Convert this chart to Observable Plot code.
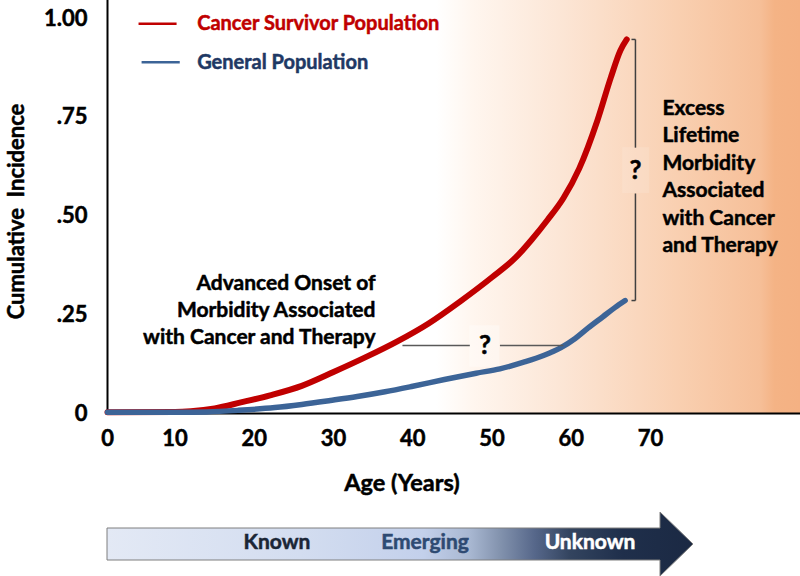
<!DOCTYPE html>
<html>
<head>
<meta charset="utf-8">
<script src="https://cdn.jsdelivr.net/npm/d3@7"></script>
<script src="https://cdn.jsdelivr.net/npm/@observablehq/plot@0.6"></script>
<style>
  html, body { margin: 0; padding: 0; background: #fff; }
  body { width: 800px; height: 576px; overflow: hidden; font-family: Lato, "Open Sans", sans-serif; }
  #chart svg, #arrow svg { display: block; }
  #chart svg [aria-label*="axis"] text { stroke: #000; stroke-width: 0.5px; }
</style>
</head>
<body>
<div id="chart"></div>
<div id="arrow"></div>
<script>
// ---- data ----
const survivorAge = [0, 10, 12, 15, 18.3, 22, 26, 30, 34, 38, 42, 46, 50, 53, 55, 57, 59, 61, 63.3, 65, 66.2, 67];
const survivorIncidence = [0.003, 0.004, 0.006, 0.013, 0.028, 0.046, 0.07, 0.105, 0.142, 0.182, 0.228, 0.284, 0.345, 0.395, 0.44, 0.49, 0.545, 0.62, 0.742, 0.851, 0.919, 0.947];
const generalAge = [0, 10, 14, 18, 22.6, 26, 29.6, 33, 36.5, 40, 44, 48, 51, 54, 56.5, 58.7, 60.5, 62.1, 64, 65.5, 66.8];
const generalIncidence = [0.003, 0.003, 0.004, 0.008, 0.015, 0.023, 0.033, 0.043, 0.055, 0.069, 0.086, 0.102, 0.113, 0.13, 0.147, 0.167, 0.19, 0.216, 0.245, 0.268, 0.286];
const seriesNames = ["Cancer Survivor Population", "General Population"];
const seriesColors = ["#c00000", "#3c6497"];
const legendTextColors = ["#c00000", "#1f3864"];
const xTicks = [0, 10, 20, 30, 40, 50, 60, 70];
const yTicks = [0, 0.25, 0.5, 0.75, 1];
const yTickLabels = ["0", ".25", ".50", ".75", "1.00"];
const xLabel = "Age (Years)";
const yLabel = "Cumulative  Incidence";
const onsetText = "Advanced Onset of\nMorbidity Associated\nwith Cancer and Therapy";
const excessText = "Excess\nLifetime\nMorbidity\nAssociated\nwith Cancer\nand Therapy";
const stageLabels = ["Known", "Emerging", "Unknown"];

// ---- layout ----
const W = 800, H = 500, mL = 107, mB = 87;
// the reference's age axis is drawn unevenly: 0→10 is narrower than the later decades
const xDomain = [0, 10, 70, 88.9];
const xRange = [mL, 174.5, 650, W];
const yMax = 1.0456;
const shadeStart = 43;
const font = "Lato, 'Open Sans', sans-serif";
const bold = 0.5; // extra stroke to mimic heavier weight

const survivor = survivorAge.map((a, i) => ({age: a, v: survivorIncidence[i]}));
const general = generalAge.map((a, i) => ({age: a, v: generalIncidence[i]}));
const series = [survivor, general];

// annotation geometry (data units)
const gapY = 0.172, gapFrom = 38.7, gapTo = 59.0, gapMid = 49.1, gapHalf = 1.9;
const brX = 68.1, brTop = survivorIncidence[survivorIncidence.length - 1], brBot = generalIncidence[generalIncidence.length - 1];
const brMid = 0.615, brHalf = 0.058;

const legendItems = seriesNames.map((n, i) => ({name: n, y: 0.987 - i * 0.098, x1: 4.6 + i * 0.45, x2: 10.2 + i * 0.4, color: seriesColors[i], text: legendTextColors[i]}));

const chart = Plot.plot({
  width: W, height: H,
  marginLeft: mL, marginRight: 0, marginTop: 0, marginBottom: mB,
  x: {type: "linear", domain: xDomain, range: xRange, ticks: xTicks, tickSize: 0, tickPadding: 17, label: null},
  y: {domain: [0, yMax], ticks: yTicks, tickSize: 0, tickPadding: 20, label: null,
      tickFormat: d => yTickLabels[yTicks.indexOf(d)]},
  style: {fontFamily: font, fontWeight: 700, fontSize: "22px", color: "#000", background: "transparent", overflow: "visible"},
  marks: [
    Plot.rect([{x1: shadeStart, x2: xDomain[xDomain.length - 1]}], {x1: "x1", x2: "x2", y1: () => 0, y2: () => yMax, fill: "url(#bgGrad)"}),
    // subtle boxes behind question marks
    Plot.rect([{x1: gapMid - gapHalf, x2: gapMid + gapHalf, y1: gapY - 0.055, y2: gapY + 0.05}], {x1: "x1", x2: "x2", y1: "y1", y2: "y2", fill: "#fff", fillOpacity: 0.35}),
    Plot.rect([{x1: brX - 1.6, x2: brX + 1.8, y1: brMid - brHalf, y2: brMid + brHalf}], {x1: "x1", x2: "x2", y1: "y1", y2: "y2", fill: "#fff", fillOpacity: 0.12}),
    // axes lines
    Plot.ruleY([0], {stroke: "#000", strokeWidth: 2}),
    Plot.ruleX([0], {stroke: "#000", strokeWidth: 2}),
    // curves
    ...series.map((s, i) => Plot.line(s, {x: "age", y: "v", stroke: seriesColors[i], strokeWidth: i === 0 ? 6 : 5.5, curve: "monotone-x", strokeLinecap: "round"})),
    // legend
    Plot.link(legendItems, {x1: "x1", x2: "x2", y1: "y", y2: "y", stroke: d => d.color, strokeWidth: 2.5}),
    ...legendItems.map(d => Plot.text([d], {x: () => 12.8, y: "y", text: "name", textAnchor: "start", fill: d.text, stroke: d.text, strokeWidth: bold, fontSize: 20})),
    // onset annotation
    Plot.text([onsetText], {x: () => 35.3, y: () => 0.266, text: d => d, textAnchor: "end", lineHeight: 1.29, fontSize: 21, fill: "#000", stroke: "#000", strokeWidth: bold}),
    Plot.link([{a: gapFrom, b: gapMid - gapHalf}, {a: gapMid + gapHalf, b: gapTo}], {x1: "a", x2: "b", y1: () => gapY, y2: () => gapY, stroke: "#595959", strokeWidth: 1.5}),
    Plot.text(["?"], {x: () => gapMid, y: () => gapY, text: d => d, fontSize: 26, fill: "#000", stroke: "#000", strokeWidth: bold}),
    // excess bracket
    Plot.link([{a: brTop, b: brMid + brHalf}, {a: brMid - brHalf, b: brBot}], {x1: () => brX, x2: () => brX, y1: "a", y2: "b", stroke: "#404040", strokeWidth: 1.5}),
    Plot.link([{y: brTop}, {y: brBot}], {x1: () => brX - 0.5, x2: () => brX, y1: "y", y2: "y", stroke: "#404040", strokeWidth: 1.5}),
    Plot.text(["?"], {x: () => brX, y: () => brMid, text: d => d, fontSize: 26, fill: "#000", stroke: "#000", strokeWidth: bold}),
    Plot.text([excessText], {x: () => 71.5, y: () => 0.605, text: d => d, textAnchor: "start", lineHeight: 1.31, fontSize: 21, fill: "#000", stroke: "#000", strokeWidth: bold}),
    // axis titles
    Plot.text([xLabel], {frameAnchor: "bottom", textAnchor: "middle", lineAnchor: "middle", dx: -52, dy: 70, text: d => d, fontSize: 23.5, fill: "#000", stroke: "#000", strokeWidth: bold}),
    Plot.text([yLabel], {frameAnchor: "left", textAnchor: "middle", lineAnchor: "middle", rotate: -90, dx: -91, dy: 4.5, text: d => d, fontSize: 22, fill: "#000", stroke: "#000", strokeWidth: bold})
  ]
});

// background gradient definition
const defs = d3.select(chart).insert("defs", ":first-child");
const bg = defs.append("linearGradient").attr("id", "bgGrad").attr("x1", 0).attr("x2", 1).attr("y1", 0).attr("y2", 0);
[[0, "#ffffff"], [0.1, "#fff6ef"], [0.34, "#fce6d6"], [0.67, "#f9cfb0"], [0.89, "#f6bf98"], [0.93, "#f4b385"], [1, "#f4b183"]]
  .forEach(([o, c]) => bg.append("stop").attr("offset", o).attr("stop-color", c));

document.getElementById("chart").appendChild(chart);

// bottom Known/Emerging/Unknown arrow
const arrow = d3.select("#arrow").append("svg").attr("width", W).attr("height", 76);
const ag = arrow.append("defs").append("linearGradient").attr("id", "arrowGrad")
  .attr("gradientUnits", "userSpaceOnUse").attr("x1", 107).attr("x2", 693).attr("y1", 0).attr("y2", 0);
[[0, "#e3e9f5"], [0.33, "#d3ddf0"], [0.54, "#c3d0eb"], [0.62, "#a8b7d1"], [0.67, "#8393ae"], [0.73, "#56678a"], [0.79, "#33445f"], [0.88, "#1f2f4b"], [1, "#1b2943"]]
  .forEach(([o, c]) => ag.append("stop").attr("offset", o).attr("stop-color", c));
arrow.append("path")
  .attr("d", "M107,28 H660 V12 L693,44 L660,76 V60 H107 Z")
  .attr("fill", "url(#arrowGrad)").attr("stroke", "#7f7f7f").attr("stroke-width", 1);
const stageX = [277, 425, 590];
const stageColors = ["#1b2636", "#2e4a72", "#ffffff"];
arrow.selectAll("text.stage").data(stageLabels).join("text")
  .attr("class", "stage")
  .attr("x", (d, i) => stageX[i]).attr("y", 44)
  .attr("text-anchor", "middle").attr("dominant-baseline", "middle")
  .attr("font-family", font).attr("font-weight", 700).attr("font-size", 21)
  .attr("fill", (d, i) => stageColors[i])
  .attr("stroke", (d, i) => stageColors[i]).attr("stroke-width", bold)
  .text(d => d);
</script>
</body>
</html>
